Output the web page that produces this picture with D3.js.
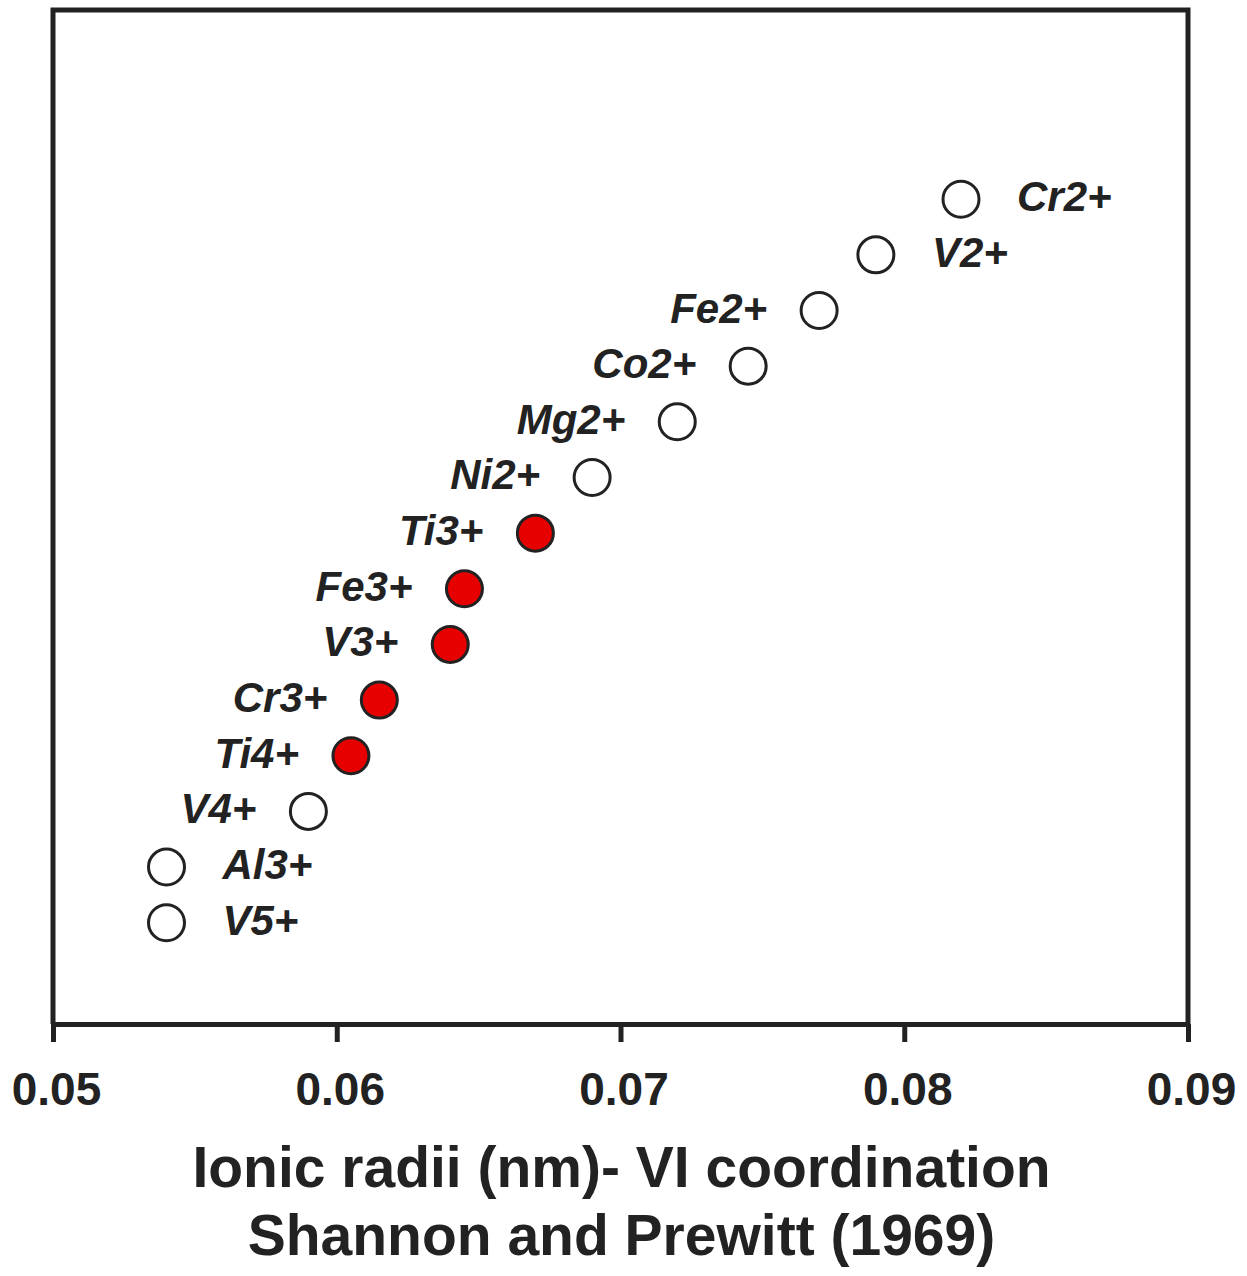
<!DOCTYPE html>
<html>
<head>
<meta charset="utf-8">
<script src="https://cdn.jsdelivr.net/npm/d3@7"></script>
<style>
  html, body { margin: 0; padding: 0; background: #fff; }
  svg { display: block; }
  text { font-family: "Liberation Sans", Arial, Helvetica, sans-serif; fill: #222; }
</style>
</head>
<body>
<svg id="chart" width="1247" height="1276"></svg>
<script>
// ---- data ----
const ions   = ["V5+", "Al3+", "V4+", "Ti4+", "Cr3+", "V3+", "Fe3+", "Ti3+", "Ni2+", "Mg2+", "Co2+", "Fe2+", "V2+", "Cr2+"];
const radii  = [0.054, 0.054, 0.059, 0.0605, 0.0615, 0.064, 0.0645, 0.067, 0.069, 0.072, 0.0745, 0.077, 0.079, 0.082];
const filled = [false, false, false, true, true, true, true, true, false, false, false, false, false, false];
const labelSide = ["right", "right", "left", "left", "left", "left", "left", "left", "left", "left", "left", "left", "right", "right"];
const xTicks = [0.05, 0.06, 0.07, 0.08, 0.09];
const xTickLabels = ["0.05", "0.06", "0.07", "0.08", "0.09"];
const xTitleLines = ["Ionic radii (nm)- VI coordination", "Shannon and Prewitt (1969)"];

// ---- layout ----
const mLeft = 53, mRight = 1188, mTop = 10, mBottom = 1024;
const svg = d3.select("#chart");

const x = d3.scaleLinear().domain([0.05, 0.09]).range([mLeft, mRight]);
const y = d3.scaleLinear().domain([-1.82, 16.4]).range([mBottom, mTop]);

// frame (top, left, right)
svg.append("path")
  .attr("d", `M${mLeft},${mBottom} L${mLeft},${mTop} L${mRight},${mTop} L${mRight},${mBottom}`)
  .attr("fill", "none").attr("stroke", "#222").attr("stroke-width", 5);

// x axis
const xAxis = d3.axisBottom(x)
  .tickValues(xTicks)
  .tickFormat((d, i) => xTickLabels[i])
  .tickSizeInner(18).tickSizeOuter(0).tickPadding(30);
const gx = svg.append("g").attr("transform", `translate(0,${mBottom})`).call(xAxis);
gx.select(".domain").attr("stroke", "#222").attr("stroke-width", 5);
gx.selectAll(".tick line").attr("stroke", "#222").attr("stroke-width", 5);
gx.selectAll(".tick text")
  .attr("fill", "#222")
  .style("font-family", "'Liberation Sans', Arial, sans-serif")
  .style("font-size", "46px").style("font-weight", "bold")
  .attr("dx", 3);

// axis title
svg.selectAll("text.xtitle").data(xTitleLines).enter().append("text")
  .attr("class", "xtitle")
  .attr("x", (mLeft + mRight) / 2 + 1)
  .attr("y", (d, i) => 1187 + i * 68)
  .attr("text-anchor", "middle")
  .style("font-size", "57px").style("font-weight", "bold")
  .text(d => d);

// points
const pts = ions.map((ion, i) => ({ ion, r: radii[i], filled: filled[i], side: labelSide[i], i }));
svg.selectAll("circle.pt").data(pts).enter().append("circle")
  .attr("class", "pt")
  .attr("cx", d => x(d.r))
  .attr("cy", d => y(d.i))
  .attr("r", 18)
  .attr("fill", d => d.filled ? "#e60000" : "#fff")
  .attr("stroke", "#222")
  .attr("stroke-width", 3);

// labels
svg.selectAll("text.lbl").data(pts).enter().append("text")
  .attr("class", "lbl")
  .attr("x", d => x(d.r) + (d.side === "left" ? -52 : 56))
  .attr("y", d => y(d.i) + 12)
  .attr("text-anchor", d => d.side === "left" ? "end" : "start")
  .style("font-size", "42px").style("font-weight", "bold").style("font-style", "italic")
  .text(d => d.ion);
</script>
</body>
</html>
